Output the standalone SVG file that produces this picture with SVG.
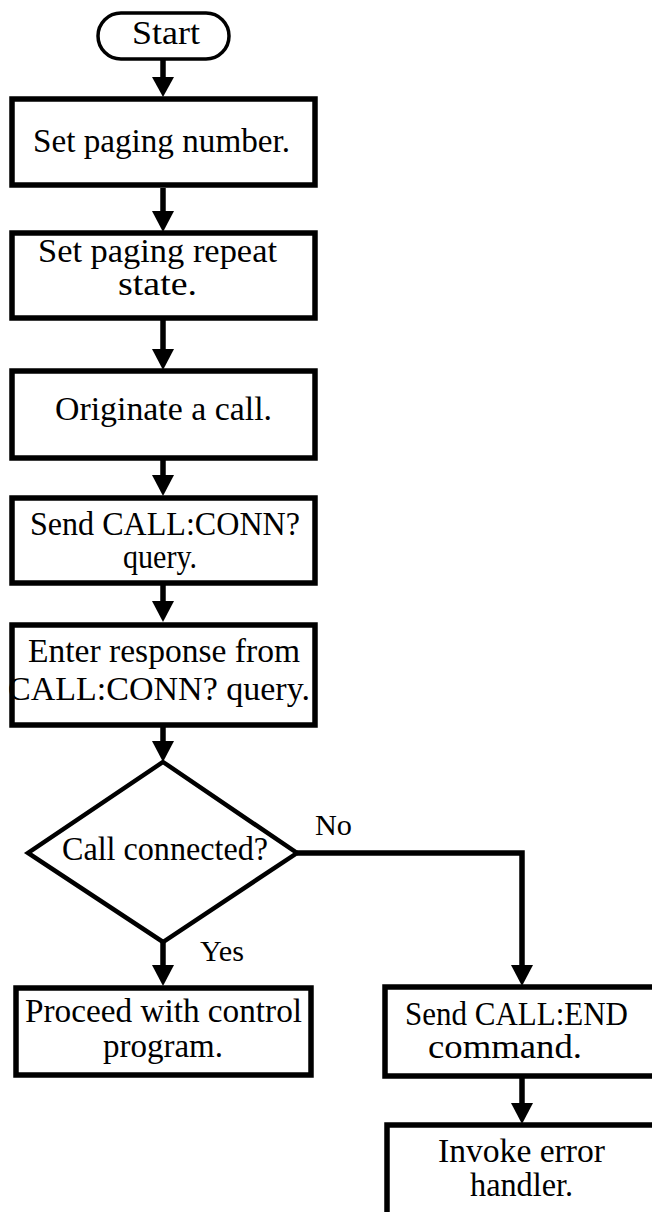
<svg xmlns="http://www.w3.org/2000/svg" width="652" height="1212" viewBox="0 0 652 1212">
<style>
.box{fill:#fff;stroke:#000;stroke-width:5.5}
.term{fill:#fff;stroke:#000;stroke-width:3.5}
.dia{fill:#fff;stroke:#000;stroke-width:4.5}
.t{font-family:"Liberation Serif","Times New Roman",serif;font-size:33px;fill:#000}
.lbl{font-family:"Liberation Serif","Times New Roman",serif;font-size:30px;fill:#000}
.c{fill:none;stroke:#000;stroke-width:5.5}
.ah{fill:#000;stroke:none}
</style>
<rect width="652" height="1212" fill="#fff"/>
<g id="connectors">
<line class="c" x1="163" y1="60" x2="163" y2="80"/>
<polygon class="ah" points="152,77 174,77 163,97"/>
<line class="c" x1="163" y1="188" x2="163" y2="214"/>
<polygon class="ah" points="152,211 174,211 163,232"/>
<line class="c" x1="163" y1="320" x2="163" y2="352"/>
<polygon class="ah" points="152,349 174,349 163,370"/>
<line class="c" x1="163" y1="460" x2="163" y2="478"/>
<polygon class="ah" points="152,475 174,475 163,496"/>
<line class="c" x1="163" y1="585" x2="163" y2="604"/>
<polygon class="ah" points="152,601 174,601 163,622"/>
<line class="c" x1="163" y1="727" x2="163" y2="744"/>
<polygon class="ah" points="152,741 174,741 163,762"/>
<line class="c" x1="163" y1="942" x2="163" y2="968"/>
<polygon class="ah" points="152,965 174,965 163,986"/>
<polyline class="c" points="297,853 522,853 522,968"/>
<polygon class="ah" points="511,965 533,965 522,986"/>
<line class="c" x1="522" y1="1077" x2="522" y2="1106"/>
<polygon class="ah" points="511,1103 533,1103 522,1124"/>
<text class="lbl" x="315" y="835" textLength="37" lengthAdjust="spacingAndGlyphs">No</text>
<text class="lbl" x="200" y="961" textLength="44" lengthAdjust="spacingAndGlyphs">Yes</text>
</g>
<g id="start">
<rect class="term" x="98" y="13" width="131" height="46" rx="23"/>
<text class="t" x="132" y="44" textLength="68" lengthAdjust="spacingAndGlyphs">Start</text>
</g>
<g id="set-paging-number">
<rect class="box" x="12" y="99" width="303" height="86"/>
<text class="t" x="33" y="152" textLength="257" lengthAdjust="spacingAndGlyphs">Set paging number.</text>
</g>
<g id="set-paging-repeat">
<rect class="box" x="12" y="233" width="303" height="85"/>
<text class="t" x="38" y="262" textLength="239" lengthAdjust="spacingAndGlyphs">Set paging repeat</text>
<text class="t" x="118" y="295" textLength="79" lengthAdjust="spacingAndGlyphs">state.</text>
</g>
<g id="originate-call">
<rect class="box" x="12" y="371" width="303" height="87"/>
<text class="t" x="55" y="420" textLength="217" lengthAdjust="spacingAndGlyphs">Originate a call.</text>
</g>
<g id="send-conn-query">
<rect class="box" x="12" y="498" width="303" height="85"/>
<text class="t" x="30" y="535" textLength="270" lengthAdjust="spacingAndGlyphs">Send CALL:CONN?</text>
<text class="t" x="123" y="568" textLength="74" lengthAdjust="spacingAndGlyphs">query.</text>
</g>
<g id="enter-response">
<rect class="box" x="12" y="625" width="303" height="100"/>
<text class="t" x="28" y="662" textLength="272" lengthAdjust="spacingAndGlyphs">Enter response from</text>
<text class="t" x="8" y="700" textLength="302" lengthAdjust="spacingAndGlyphs">CALL:CONN? query.</text>
</g>
<g id="call-connected">
<polygon class="dia" points="163,762 297,853 163,942 28,853"/>
<text class="t" x="62" y="860" textLength="206" lengthAdjust="spacingAndGlyphs">Call connected?</text>
</g>
<g id="proceed">
<rect class="box" x="16" y="988" width="295" height="87"/>
<text class="t" x="25" y="1022" textLength="277" lengthAdjust="spacingAndGlyphs">Proceed with control</text>
<text class="t" x="103" y="1057" textLength="120" lengthAdjust="spacingAndGlyphs">program.</text>
</g>
<g id="send-end">
<rect class="box" x="385" y="987" width="300" height="89"/>
<text class="t" x="405" y="1025" textLength="223" lengthAdjust="spacingAndGlyphs">Send CALL:END</text>
<text class="t" x="428" y="1058" textLength="154" lengthAdjust="spacingAndGlyphs">command.</text>
</g>
<g id="error-handler">
<rect class="box" x="387" y="1125" width="300" height="120"/>
<text class="t" x="438" y="1162" textLength="167" lengthAdjust="spacingAndGlyphs">Invoke error</text>
<text class="t" x="470" y="1196" textLength="103" lengthAdjust="spacingAndGlyphs">handler.</text>
</g>
</svg>
